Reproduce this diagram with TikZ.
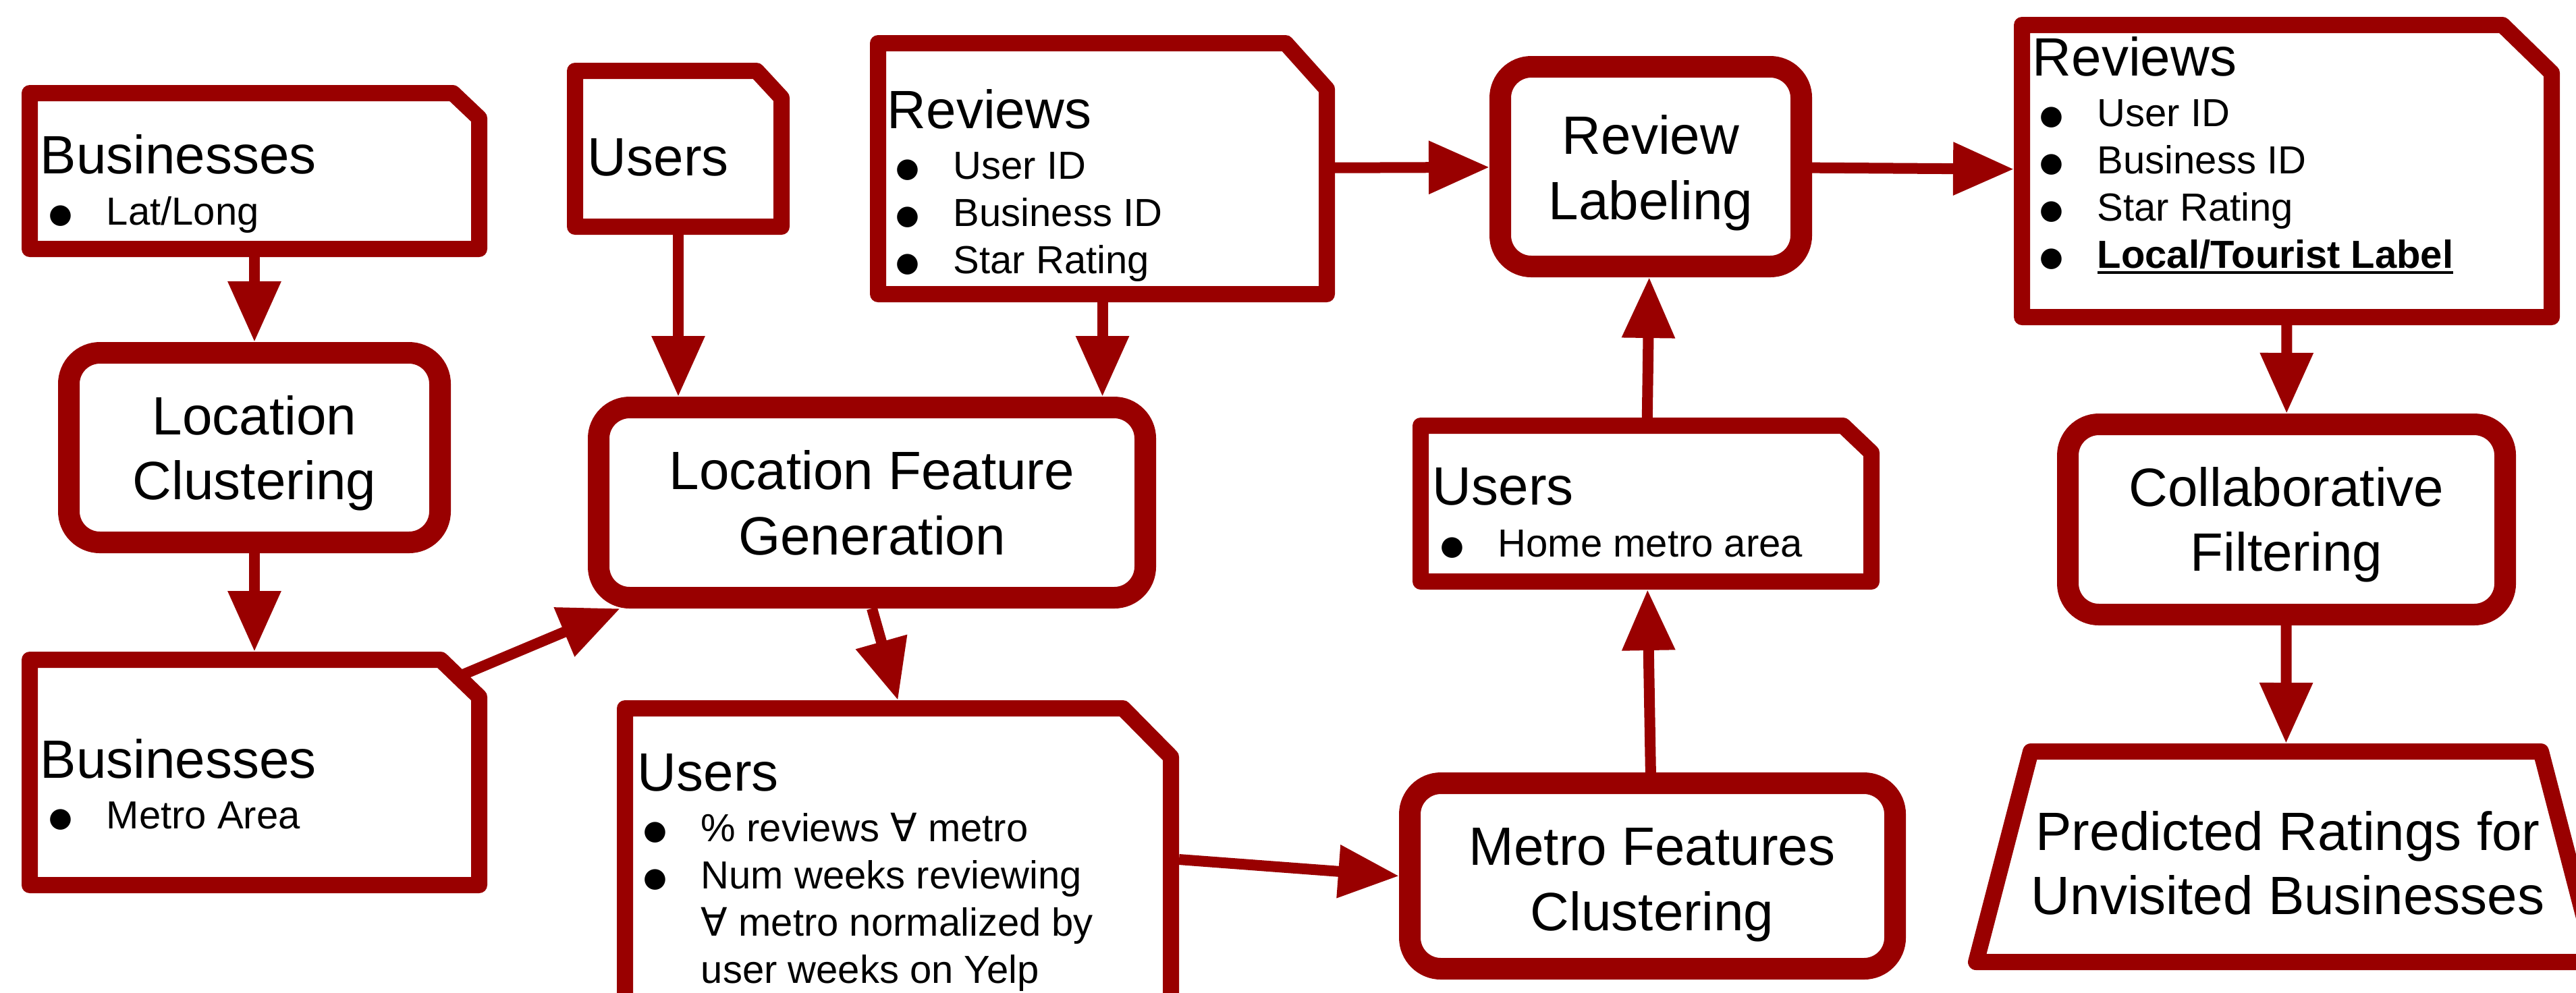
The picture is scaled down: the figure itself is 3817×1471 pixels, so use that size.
\documentclass[tikz,border=0pt]{standalone}
\usepackage{fontspec}
\setmainfont{Liberation Sans}
\newfontfamily\symbolfont{DejaVu Sans}
\usetikzlibrary{arrows.meta}
\definecolor{dred}{RGB}{153,0,0}

% outline of a data box: rectangle with a cut top-right corner (inset by half the stroke)
\newcommand\docpath[3]{%
  \draw[docline] ([shift={(12,-12)}]#1.south west) -- ([shift={(12,12)}]#1.north west)
    -- ([shift={(-#2-5,12)}]#1.north east) -- ([shift={(-12,#3+5)}]#1.north east)
    -- ([shift={(-12,-12)}]#1.south east) -- cycle;}
% bullet placed before a list line
\newcommand\bl{\llap{\makebox[0pt]{\smash{\raisebox{0.6pt}{\symbolfont\fontsize{10pt}{10pt}\selectfont ●}}}\hspace{17pt}}}
\newcommand\fa{{\symbolfont ∀}}
\newsavebox\ulbox
\newcommand\ulbold[1]{\sbox\ulbox{\bfseries #1}\rlap{\rule[-2.25pt]{\wd\ulbox}{1pt}}\usebox\ulbox}

\begin{document}
\begin{tikzpicture}[x=0.25pt,y=-0.25pt,
  docarea/.style 2 args={draw=none, inner sep=0pt, outer sep=0pt,
    minimum width=#1*0.25pt, minimum height=#2*0.25pt},
  docline/.style={draw=dred, line width=6pt, line join=round},
  procbox/.style 2 args={draw=dred, line width=8pt, rounded corners=11.5pt, fill=white,
    inner sep=0pt, minimum width=#1*0.25pt, minimum height=#2*0.25pt},
  conn/.style={draw=dred, line width=4pt,
    -{Triangle[length=22.5pt 0 0, width=18.75pt 0 0]}},
  ttl/.style={font=\fontsize{20pt}{24pt}\selectfont, anchor=base west, inner sep=0pt},
  itm/.style={font=\fontsize{14.5pt}{17pt}\selectfont, anchor=base west, inner sep=0pt},
  ptxt/.style={font=\fontsize{20pt}{24pt}\selectfont, anchor=base, inner sep=0pt}]

\useasboundingbox (0,0) rectangle (3817,1471);
\clip (0,0) rectangle (3817,1471);

% ---- data boxes ----
\node[docarea={690}{255}] (bus1) at (377,253.5) {};
\docpath{bus1}{46}{44}
\node[docarea={690}{358}] (bus2) at (377,1145) {};
\docpath{bus2}{64}{62}
\node[docarea={330}{255}] (users1) at (1005,220.5) {};
\docpath{users1}{44}{47}
\node[docarea={689}{396}] (rev1) at (1633.5,250) {};
\docpath{rev1}{68}{75}
\node[docarea={833}{472}] (users2) at (1330.5,1274) {};
\docpath{users2}{78}{79}
\node[docarea={692}{255}] (uh) at (2439,746.5) {};
\docpath{uh}{49}{47}
\node[docarea={809}{457}] (rev2) at (3388.5,253.5) {};
\docpath{rev2}{80}{78}

% ---- output box ----
\node[docarea={786}{336}] (pred) at (3387,1270) {};
\draw[docline] ([shift={(15,12)}]pred.north west) -- ([shift={(-15,12)}]pred.north east)
  -- ([shift={(66,-12)}]pred.south east) -- ([shift={(-66,-12)}]pred.south west) -- cycle;

% ---- process steps ----
\node[procbox={550}{281}] (lc) at (377,663.5) {};
\node[procbox={810}{282}] (lfg) at (1292,745) {};
\node[procbox={446}{296}] (rl) at (2446,247) {};
\node[procbox={719}{275}] (mfc) at (2448.5,1298.5) {};
\node[procbox={648}{282}] (cf) at (3388,770) {};

% ---- connectors ----
\coordinate (bus2cut) at ([shift={(-36,34)}]bus2.north east);
\draw[conn] (bus1) -- (lc);
\draw[conn] (lc) -- (bus2);
\draw[conn] (bus2cut) -- (lfg);
\draw[conn] (users1.south) -- (users1.south |- lfg.north);
\draw[conn] (rev1.south) -- (rev1.south |- lfg.north);
\draw[conn] (rev1) -- (rl);
\draw[conn] (rl) -- (rev2);
\draw[conn] (lfg.south) -- (users2.north);
\draw[conn] (users2.east) -- (mfc.west);
\draw[conn] (mfc) -- (uh);
\draw[conn] (uh) -- (rl);
\draw[conn] (rev2) -- (cf);
\draw[conn] (cf) -- (pred);

% ---- data box texts ----
\node[ttl] (bus1t) at (59,257) {Businesses};
\node[itm] (bus1a) at (157,333) {\bl Lat/Long};
\node[ttl] (bus2t) at (59,1153) {Businesses};
\node[itm] (bus2a) at (157,1228) {\bl Metro Area};
\node[ttl] (users1t) at (870,260) {Users};
\node[ttl] (rev1t) at (1314,190) {Reviews};
\node[itm] (rev1a) at (1412,265) {\bl User ID};
\node[itm] (rev1b) at (1412,335) {\bl Business ID};
\node[itm] (rev1c) at (1412,405) {\bl Star Rating};
\node[ttl] (rev2t) at (3011,112) {Reviews};
\node[itm] (rev2a) at (3107,187) {\bl User ID};
\node[itm] (rev2b) at (3107,257) {\bl Business ID};
\node[itm] (rev2c) at (3107,327) {\bl Star Rating};
\node[itm] (rev2d) at (3107,397) {\bl \ulbold{Local/Tourist Label}};
\node[ttl] (users2t) at (944,1172) {Users};
\node[itm] (users2a) at (1038,1247) {\bl \% reviews \fa{} metro};
\node[itm] (users2b) at (1038,1317) {\bl Num weeks reviewing};
\node[itm] (users2c) at (1038,1387) {\fa{} metro normalized by};
\node[itm] (users2d) at (1038,1457) {user weeks on Yelp};
\node[ttl] (uht) at (2122,748) {Users};
\node[itm] (uha) at (2219,825) {\bl Home metro area};

% ---- process texts ----
\node[ptxt] (lc1) at (377,644) {Location};
\node[ptxt] (lc2) at (377,740) {Clustering};
\node[ptxt] (lfg1) at (1292,725) {Location Feature};
\node[ptxt] (lfg2) at (1292,822) {Generation};
\node[ptxt] (rl1) at (2446,228) {Review};
\node[ptxt] (rl2) at (2446,325) {Labeling};
\node[ptxt] (mfc1) at (2448,1282) {Metro Features};
\node[ptxt] (mfc2) at (2448,1379) {Clustering};
\node[ptxt] (cf1) at (3388,750) {Collaborative};
\node[ptxt] (cf2) at (3388,846) {Filtering};
\node[ptxt] (pred1) at (3390,1260) {Predicted Ratings for};
\node[ptxt] (pred2) at (3390,1355) {Unvisited Businesses};
\end{tikzpicture}
\end{document}
